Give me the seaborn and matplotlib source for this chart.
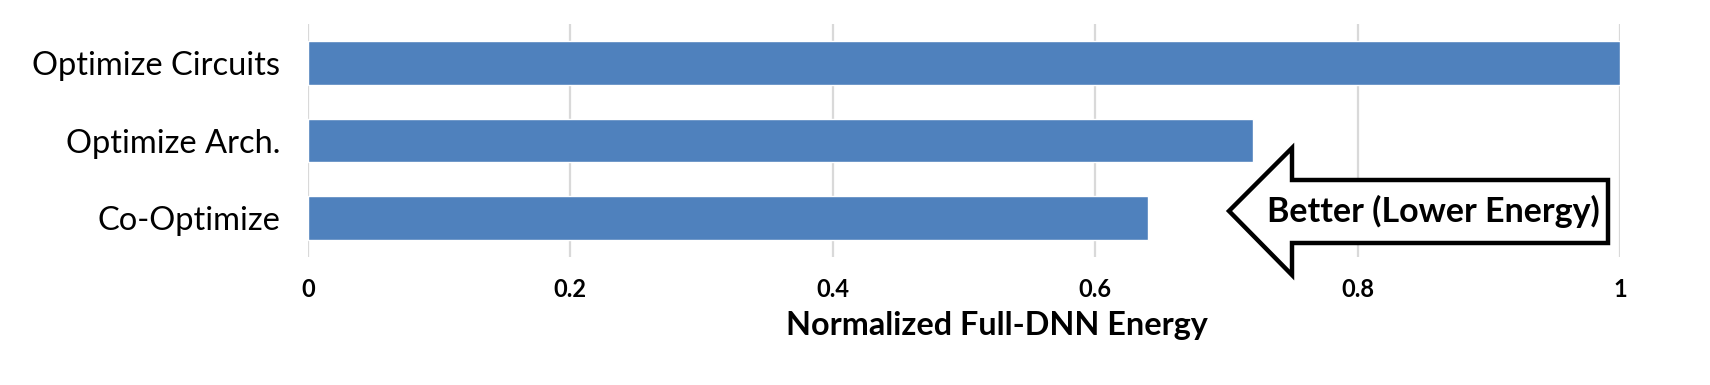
'''normalized energy bar chart'''

import matplotlib
matplotlib.use('Agg')
import matplotlib.pyplot as plt
from matplotlib.patches import Polygon
import seaborn as sns
import pandas as pd

categories = ['Optimize Circuits', 'Optimize Arch.', 'Co-Optimize']
energy = [1.0, 0.72, 0.64]
xticks = [0, 0.2, 0.4, 0.6, 0.8, 1]
xtick_labels = ['0', '0.2', '0.4', '0.6', '0.8', '1']

W, H = 1710, 385

sns.set_style('white')
plt.rcParams['font.family'] = ['Lato', 'DejaVu Sans']
plt.rcParams['text.color'] = 'black'
plt.rcParams['xtick.color'] = 'black'
plt.rcParams['ytick.color'] = 'black'
plt.rcParams['axes.labelcolor'] = 'black'

df = pd.DataFrame({'category': categories, 'energy': energy})

fig = plt.figure(figsize=(W / 100, H / 100), dpi=100)
ax = fig.add_axes([308 / W, 1 - 257 / H, (1620 - 308) / W, (257 - 24) / H])
sns.barplot(data=df, x='energy', y='category', orient='h', color='#4F81BD',
            saturation=1, width=0.56, ax=ax, zorder=3)

ax.set_xlim(0, 1)
ax.set_ylim(2.5, -0.5)
ax.set_xticks(xticks)
ax.set_xticklabels(xtick_labels, fontsize=17, fontweight='bold')
ax.tick_params(axis='x', length=0, pad=15)
ax.tick_params(axis='y', length=0, pad=20, labelsize=23.5)
ax.grid(axis='x', color='#D9D9D9', linewidth=1.6, zorder=0)
ax.grid(axis='y', visible=False)
for s in ax.spines.values():
    s.set_visible(False)
ax.set_ylabel('')
ax.set_xlabel('Normalized Full-DNN Energy', fontsize=23.3, fontweight='bold')
ax.xaxis.set_label_coords((997 - 308) / (1620 - 308), (257 - 326) / (257 - 24),
                          transform=ax.transAxes)
ax.xaxis.label.set_va('center')

# "better" arrow annotation (pixel layout of the original)
pts = [(1229, 211), (1292, 148), (1292, 180), (1608, 180),
       (1608, 243), (1292, 243), (1292, 275)]
pts = [(x / W, 1 - y / H) for x, y in pts]
fig.patches.append(Polygon(pts, closed=True, facecolor='white', edgecolor='black',
                           linewidth=3.2, joinstyle='miter', transform=fig.transFigure,
                           zorder=5))
fig.text(1433 / W, 1 - 211 / H, 'Better (Lower Energy)', ha='center', va='center',
         fontsize=24.5, fontweight='bold', zorder=6)

fig.savefig('out.png', dpi=100)
